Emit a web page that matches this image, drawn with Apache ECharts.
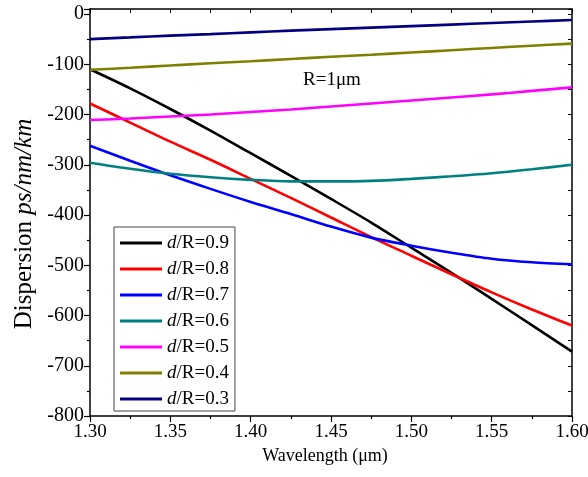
<!DOCTYPE html>
<html>
<head>
<meta charset="utf-8">
<script src="https://cdn.jsdelivr.net/npm/echarts@6/dist/echarts.min.js"></script>
<style>
  html, body { margin: 0; padding: 0; background: #fff; }
  #chart { width: 588px; height: 477px; }
</style>
</head>
<body>
<div id="chart"></div>
<script>
// Wavelength samples (µm)
const wavelengths = [1.300, 1.325, 1.350, 1.375, 1.400, 1.425, 1.450, 1.475, 1.500, 1.525, 1.550, 1.575, 1.600];

// Dispersion (ps/nm/km) for each d/R ratio, R = 1 µm
const dR09 = [-110, -148, -189, -232, -277, -322, -368, -415, -465, -515, -567, -619, -672];
const dR08 = [-178, -216, -254, -290, -328, -366, -405, -444, -481, -518, -554, -588, -620];
const dR07 = [-262, -292, -321, -348, -374, -398, -423, -445, -461, -475, -487, -494, -498];
const dR06 = [-296, -308, -318, -325, -330, -333, -333, -332, -328, -323, -317, -309, -300];
const dR05 = [-211, -208, -204, -200, -195, -190, -184, -178, -172, -166, -160, -153, -146];
const dR04 = [-111, -107, -102.5, -98, -94, -89.5, -85, -81, -76.5, -72, -67.5, -63, -59];
const dR03 = [-50, -46.5, -43, -40, -36.5, -33, -30, -27, -24, -21, -18, -15, -12];

const seriesNames = ['d/R=0.9', 'd/R=0.8', 'd/R=0.7', 'd/R=0.6', 'd/R=0.5', 'd/R=0.4', 'd/R=0.3'];
const seriesValues = [dR09, dR08, dR07, dR06, dR05, dR04, dR03];
const seriesColors = ['#000000', '#ff0000', '#0000ff', '#008080', '#ff00ff', '#808000', '#000080'];

const xTicks = { min: 1.30, max: 1.60, step: 0.05 };
const yTicks = { min: -800, max: 10, step: 100 };

const serif = '"Liberation Serif", "DejaVu Serif", serif';

const chart = echarts.init(document.getElementById('chart'), null, { renderer: 'canvas' });

const series = seriesNames.map((name, i) => ({
  name: name,
  type: 'line',
  smooth: 0.3,
  symbol: 'none',
  xAxisIndex: 0,
  yAxisIndex: 0,
  lineStyle: { color: seriesColors[i], width: 2.6 },
  itemStyle: { color: seriesColors[i] },
  data: wavelengths.map((w, k) => [w, seriesValues[i][k]])
}));

const axisLineStyle = { color: '#000', width: 1.5 };

chart.setOption({
  animation: false,
  backgroundColor: '#fff',
  grid: {
    left: 90, right: 16, top: 9, bottom: 61,
    outerBoundsMode: 'none',
    containLabel: false
  },
  legend: {
    orient: 'vertical',
    left: 114,
    top: 227,
    data: seriesNames,
    icon: 'rect',
    itemWidth: 42,
    itemHeight: 3,
    itemGap: 6,
    padding: [6, 6, 2, 6],
    borderColor: '#444',
    borderWidth: 1,
    backgroundColor: '#fff',
    formatter: name => '{i|d}' + name.slice(1),
    textStyle: {
      fontFamily: serif,
      fontSize: 19,
      lineHeight: 20,
      color: '#000',
      rich: {
        i: { fontFamily: serif, fontSize: 19, fontStyle: 'italic', color: '#000', lineHeight: 20 }
      }
    }
  },
  xAxis: [{
    type: 'value',
    position: 'bottom',
    min: xTicks.min,
    max: xTicks.max,
    interval: xTicks.step,
    name: 'Wavelength (μm)',
    nameLocation: 'middle',
    nameGap: 31,
    nameTextStyle: { fontFamily: serif, fontSize: 18, color: '#000', padding: [0, 12, 0, 0] },
    axisLine: { onZero: false, lineStyle: axisLineStyle },
    axisTick: { show: true, inside: false, length: 6, lineStyle: { color: '#000', width: 1.2 } },
    minorTick: { show: true, splitNumber: 2, length: 3, lineStyle: { color: '#000', width: 1.2 } },
    axisLabel: {
      fontFamily: serif, fontSize: 19, color: '#000', margin: 7,
      formatter: v => v.toFixed(2)
    },
    splitLine: { show: false }
  }, {
    type: 'value',
    position: 'top',
    min: xTicks.min,
    max: xTicks.max,
    interval: xTicks.step,
    axisLine: { onZero: false, lineStyle: axisLineStyle },
    axisTick: { show: true, inside: true, length: 4, lineStyle: { color: '#000', width: 1 } },
    minorTick: { show: true, splitNumber: 2, length: 4, lineStyle: { color: '#000', width: 1 } },
    axisLabel: { show: false },
    splitLine: { show: false }
  }],
  yAxis: [{
    type: 'value',
    position: 'left',
    min: yTicks.min,
    max: yTicks.max,
    interval: yTicks.step,
    axisLine: { onZero: false, lineStyle: axisLineStyle },
    axisTick: { show: true, inside: false, length: 6, lineStyle: { color: '#000', width: 1.2 } },
    minorTick: { show: true, splitNumber: 2, length: 3, lineStyle: { color: '#000', width: 1.2 } },
    axisLabel: {
      fontFamily: serif, fontSize: 20, color: '#000', margin: 6,
      showMaxLabel: false,
      formatter: v => (v > 0 ? '' : String(v))
    },
    splitLine: { show: false }
  }, {
    type: 'value',
    position: 'right',
    min: yTicks.min,
    max: yTicks.max,
    interval: yTicks.step,
    axisLine: { onZero: false, lineStyle: axisLineStyle },
    axisTick: { show: true, inside: true, length: 4, lineStyle: { color: '#000', width: 1 } },
    minorTick: { show: true, splitNumber: 2, length: 4, lineStyle: { color: '#000', width: 1 } },
    axisLabel: { show: false },
    splitLine: { show: false }
  }],
  graphic: [{
    type: 'text',
    x: 24,
    y: 224,
    rotation: Math.PI / 2,
    style: {
      text: '{a|Dispersion }{b|ps/nm/km}',
      align: 'center',
      verticalAlign: 'middle',
      rich: {
        a: { fontFamily: serif, fontSize: 25, fill: '#000' },
        b: { fontFamily: serif, fontSize: 25, fontStyle: 'italic', fill: '#000' }
      }
    }
  }, {
    type: 'text',
    x: 303,
    y: 80,
    style: {
      text: 'R=1μm',
      fontFamily: serif,
      fontSize: 19,
      fill: '#000',
      align: 'left',
      verticalAlign: 'middle'
    }
  }],
  series: series
});
</script>
</body>
</html>
